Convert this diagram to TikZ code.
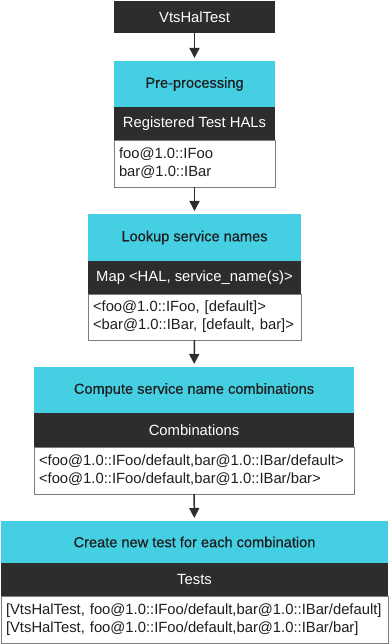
\documentclass[tikz,border=0pt]{standalone}
\usepackage{fontspec}
\setmainfont{Liberation Sans}
\newfontfamily\headfont[FakeBold=0.5]{Liberation Sans}
\usetikzlibrary{arrows.meta, positioning}
\definecolor{stagecyan}{RGB}{69,207,227}
\definecolor{bardark}{RGB}{45,45,45}
\definecolor{listgray}{RGB}{125,125,125}
\definecolor{textdark}{RGB}{30,30,30}

\begin{document}
\begin{tikzpicture}[x=1pt, y=-1pt,
    every node/.style={font=\fontsize{14.8}{18}\selectfont, inner sep=0pt, outer sep=0pt},
    stage/.style={rectangle, fill=stagecyan, text=textdark, font=\fontsize{14.6}{18}\selectfont\headfont, minimum height=46pt, anchor=north},
    title/.style={rectangle, fill=bardark, text=white, minimum height=33pt},
    list/.style={rectangle, draw=listgray, line width=0.8pt, fill=white, text=textdark, minimum height=47pt, align=left, inner xsep=5pt, text width=#1},
    arrow/.style={-{Triangle[length=10pt, width=10pt]}, line width=1.5pt, bardark, shorten >=3pt}
]
\useasboundingbox (0,0) rectangle (389,644);

\node[title, minimum width=161pt, minimum height=32pt, anchor=north] (start) at (194.5,1) {VtsHalTest};

\node[stage, minimum width=161pt] (pre) at (194.5,61) {Pre-processing};
\node[title, minimum width=161pt, below=0pt of pre] (preT) {Registered Test HALs};
\node[list=151pt, below=0pt of preT] (preL) {foo@1.0::IFoo\\bar@1.0::IBar};

\node[stage, minimum width=213pt, minimum height=47pt] (look) at (194.5,214) {Lookup service names};
\node[title, minimum width=213pt, below=0pt of look] (lookT) {Map <HAL, service\_name(s)>};
\node[list=203pt, minimum height=46pt, below=0pt of lookT] (lookL) {<foo@1.0::IFoo, [default]>\\<bar@1.0::IBar, [default, bar]>};

\node[stage, minimum width=320pt] (comp) at (194,367) {Compute service name combinations};
\node[title, minimum width=320pt, minimum height=34pt, below=0pt of comp] (compT) {Combinations};
\node[list=310pt, below=0pt of compT] (compL) {<foo@1.0::IFoo/default,bar@1.0::IBar/default>\\<foo@1.0::IFoo/default,bar@1.0::IBar/bar>};

\node[stage, minimum width=387pt, minimum height=42pt] (make) at (194.5,521) {Create new test for each combination};
\node[title, minimum width=387pt, below=0pt of make] (makeT) {Tests};
\node[list=377pt, below=0pt of makeT] (makeL) {{[}VtsHalTest, foo@1.0::IFoo/default,bar@1.0::IBar/default]\\{[}VtsHalTest, foo@1.0::IFoo/default,bar@1.0::IBar/bar]};

\draw[arrow] (start) -- (pre);
\draw[arrow] (preL) -- (look);
\draw[arrow] (lookL) -- (comp);
\draw[arrow] (compL) -- (make);

\end{tikzpicture}
\end{document}
